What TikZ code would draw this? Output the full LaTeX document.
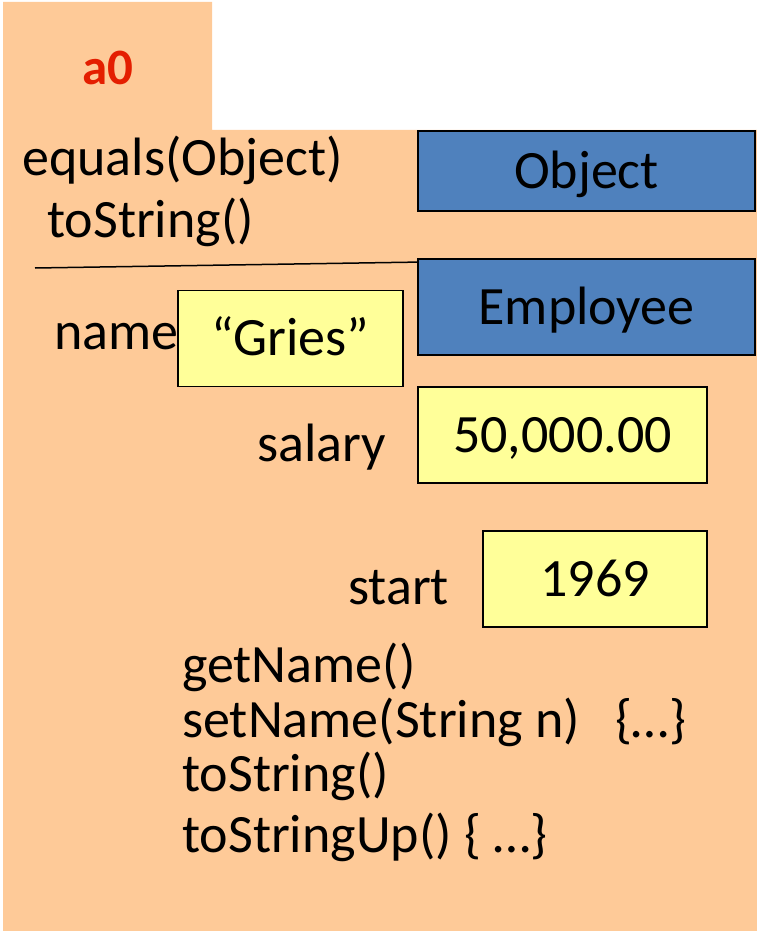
\documentclass[tikz,border=0pt]{standalone}
\usepackage{fontspec}
\setmainfont{Carlito}
\usepackage{tikz}
\definecolor{peach}{RGB}{254,202,152}
\definecolor{classblue}{RGB}{79,129,189}
\definecolor{fieldyellow}{RGB}{255,255,153}
\definecolor{namered}{RGB}{228,30,0}
\tikzstyle{classbox} = [rectangle, draw=black, line width=1.8pt, fill=classblue, inner sep=0pt, text height=39pt, text depth=5pt, font=\fontsize{54}{64}\selectfont]
\tikzstyle{fieldbox} = [rectangle, draw=black, line width=1.8pt, fill=fieldyellow, inner sep=0pt, text height=39pt, text depth=5pt, font=\fontsize{54}{64}\selectfont]
\tikzstyle{member} = [anchor=base west, inner sep=0pt, font=\fontsize{54}{64}\selectfont]

\begin{document}
\begin{tikzpicture}[x=1pt, y=-1pt]
\useasboundingbox (0,0) rectangle (757,931);
% the object folder with its tab
\fill[peach] (3,2) -- (212,2) -- (212,130) -- (757,130) -- (757,931) -- (3,931) -- cycle;
\node (tab) [anchor=base, inner sep=0pt, text=namered, font=\fontsize{51}{60}\selectfont\bfseries] at (108,85) {a0};
% partitions
\node (obj) [classbox, minimum width=337pt, minimum height=80pt] at (586.5,171) {Object};
\node (emp) [classbox, minimum width=337pt, minimum height=96pt] at (586.5,307) {Employee};
\node (eq) [member] at (22,175) {equals(Object)};
\node (ts) [member] at (47,237) {toString()};
\coordinate (sep) at (35,268);
\draw[line width=1.5pt] (sep) -- ([yshift=-4pt]emp.north west);
% fields
\node (gries) [fieldbox, minimum width=225pt, minimum height=96pt] at (290.5,338.5) {``Gries''};
\node (name) [member] at (54,349) {name};
\node (sal) [fieldbox, minimum width=289pt, minimum height=96pt] at (562.5,435) {50,000.00};
\node (sallbl) [member] at (257,461) {salary};
\node (start) [fieldbox, minimum width=224pt, minimum height=96pt] at (595,579) {1969};
\node (startlbl) [member] at (348,604) {start};
% methods
\node (get) [member] at (182,682) {getName()};
\node (set) [member] at (182,737) {setName(String n)\hspace{0.65em}\{\ldots\}};
\node (ts2) [member] at (182,791) {toString()};
\node (tsu) [member] at (182,852) {toStringUp() \{ \ldots\}};
\end{tikzpicture}
\end{document}
